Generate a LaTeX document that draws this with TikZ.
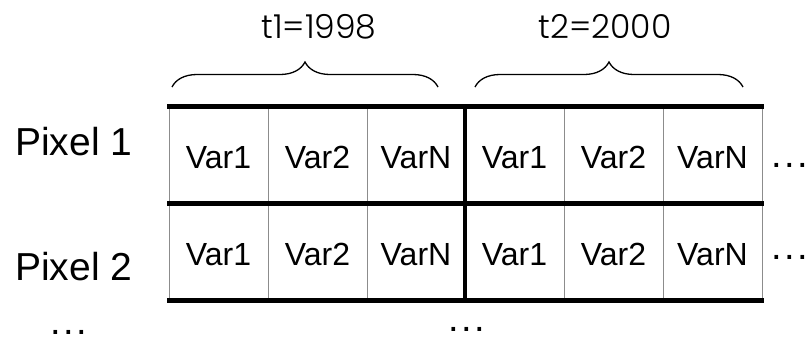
\documentclass[tikz,border=0pt]{standalone}
\usepackage{fontspec}
\setmainfont{Liberation Sans}
\newfontfamily\geofont{Poppins Light}
\usetikzlibrary{decorations.pathreplacing}
\begin{document}
\begin{tikzpicture}[x=1pt,y=-1pt,
  thickline/.style={line width=5pt,draw=black},
  thickvert/.style={line width=4pt,draw=black},
  thinline/.style={line width=1pt,draw=black!45},
  var/.style={font=\fontsize{32}{32}\selectfont,anchor=base,inner sep=0pt},
  rowlabel/.style={font=\fontsize{39}{39}\selectfont,anchor=base west,inner sep=0pt},
  dotstext/.style={font=\fontsize{38}{38}\selectfont,anchor=base,inner sep=0pt,text depth=0pt},
  timelabel/.style={font=\geofont\fontsize{33}{33}\selectfont,inner sep=0pt},
  bracestyle/.style={decorate,decoration={brace,amplitude=25pt},line width=1.3pt}]
\useasboundingbox (0,0) rectangle (807,338);
% thin column lines
\foreach \cx in {169,268,367,564,663,762}
  \draw[thinline] (\cx,106) -- (\cx,300);
% thick lines
\foreach \ry in {106,203,300}
  \draw[thickline] (167,\ry) -- (764,\ry);
\draw[thickvert] (465,106) -- (465,300);
% row labels
\node[rowlabel] (p1) at (15,155) {Pixel 1};
\node[rowlabel] (p2) at (15,280) {Pixel 2};
% cell texts
\node[var] (a11) at (218.5,168) {Var1};
\node[var] (a12) at (317.5,168) {Var2};
\node[var] (a13) at (416,168) {VarN};
\node[var] (a14) at (514.5,168) {Var1};
\node[var] (a15) at (613.5,168) {Var2};
\node[var] (a16) at (712.5,168) {VarN};
\node[var] (a21) at (218.5,265) {Var1};
\node[var] (a22) at (317.5,265) {Var2};
\node[var] (a23) at (416,265) {VarN};
\node[var] (a24) at (514.5,265) {Var1};
\node[var] (a25) at (613.5,265) {Var2};
\node[var] (a26) at (712.5,265) {VarN};
% dots
\node[dotstext] (d1) at (790,167) {.\kern2.4pt.\kern2.4pt.};
\node[dotstext] (d2) at (790,259) {.\kern2.4pt.\kern2.4pt.};
\node[dotstext] (d3) at (68.5,334) {.\kern2.4pt.\kern2.4pt.};
\node[dotstext] (d4) at (466.5,331) {.\kern2.4pt.\kern2.4pt.};
% braces
\coordinate (b1s) at (172,87);
\coordinate (b1e) at (438,87);
\coordinate (b2s) at (475,87);
\coordinate (b2e) at (743,87);
\draw[bracestyle] (b1s) -- (b1e);
\draw[bracestyle] (b2s) -- (b2e);
\node[timelabel] (t1) at (319,27) {t1=1998};
\node[timelabel] (t2) at (605,27) {t2=2000};
\end{tikzpicture}
\end{document}
